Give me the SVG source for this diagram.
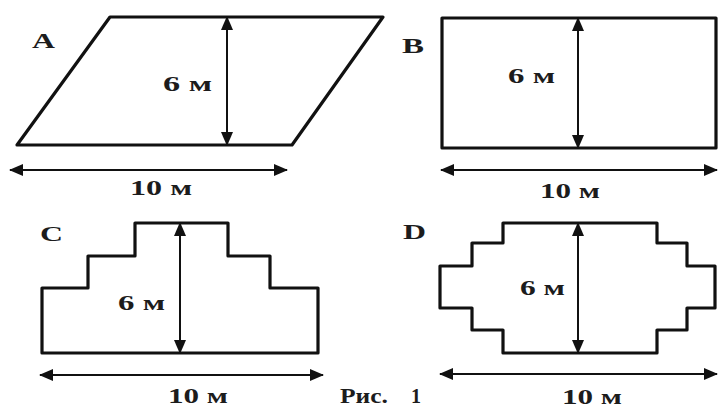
<svg xmlns="http://www.w3.org/2000/svg" width="718" height="408" viewBox="0 0 718 408">
<style>
.shape{fill:none;stroke:#111;stroke-width:3.2;stroke-linejoin:round}
.dim{fill:none;stroke:#111;stroke-width:2;marker-start:url(#ah);marker-end:url(#ah)}
text{font-family:"Liberation Serif","Times New Roman",serif;font-weight:bold;font-size:20px;fill:#1c1c1c}
</style>
<defs>
<marker id="ah" markerUnits="userSpaceOnUse" markerWidth="14" markerHeight="12" refX="13" refY="6" orient="auto-start-reverse">
<path d="M0,0 L14,6 L0,12 z" fill="#111"/>
</marker>
</defs>
<rect width="718" height="408" fill="#fff"/>
<g id="figA">
<path class="shape" d="M110,17 L383,17 L292,145 L17,145 Z"/>
<text x="32" y="48" textLength="23" lengthAdjust="spacingAndGlyphs">A</text>
<text x="163" y="91" textLength="49" lengthAdjust="spacingAndGlyphs">6 м</text>
<text x="130" y="195" textLength="62" lengthAdjust="spacingAndGlyphs">10 м</text>
</g>
<g id="figB">
<rect class="shape" x="442" y="18" width="274" height="130"/>
<text x="402" y="53" textLength="22" lengthAdjust="spacingAndGlyphs">B</text>
<text x="508" y="83" textLength="47" lengthAdjust="spacingAndGlyphs">6 м</text>
<text x="540" y="198" textLength="60" lengthAdjust="spacingAndGlyphs">10 м</text>
</g>
<g id="figC">
<path class="shape" d="M42,353 L42,288 L88,288 L88,256 L135,256 L135,223 L228,223 L228,256 L270,256 L270,288 L318,288 L318,353 Z"/>
<text x="40" y="241" textLength="23" lengthAdjust="spacingAndGlyphs">C</text>
<text x="118" y="310" textLength="47" lengthAdjust="spacingAndGlyphs">6 м</text>
<text x="168" y="403" textLength="60" lengthAdjust="spacingAndGlyphs">10 м</text>
</g>
<g id="figD">
<path class="shape" d="M503,223 L657,223 L657,243 L687,243 L687,266 L715,266 L715,308 L687,308 L687,330 L657,330 L657,353 L503,353 L503,330 L472,330 L472,308 L440,308 L440,266 L472,266 L472,243 L503,243 Z"/>
<text x="403" y="239" textLength="23" lengthAdjust="spacingAndGlyphs">D</text>
<text x="520" y="295" textLength="45" lengthAdjust="spacingAndGlyphs">6 м</text>
<text x="562" y="404" textLength="60" lengthAdjust="spacingAndGlyphs">10 м</text>
</g>
<g id="caption">
<text x="340" y="403" textLength="48" lengthAdjust="spacingAndGlyphs">Рис.</text>
<text x="411" y="403">1</text>
</g>
<g id="connectors">
<line class="dim" x1="227" y1="17" x2="227" y2="145"/>
<line class="dim" x1="10" y1="170" x2="287" y2="170"/>
<line class="dim" x1="578" y1="18" x2="578" y2="148"/>
<line class="dim" x1="441" y1="170" x2="717" y2="170"/>
<line class="dim" x1="180" y1="223" x2="180" y2="353"/>
<line class="dim" x1="40" y1="375" x2="323" y2="375"/>
<line class="dim" x1="578" y1="223" x2="578" y2="353"/>
<line class="dim" x1="440" y1="374" x2="717" y2="374"/>
</g>
</svg>
